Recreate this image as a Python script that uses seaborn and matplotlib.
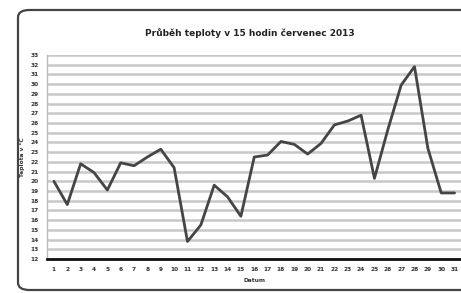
import matplotlib
matplotlib.use("Agg")
import matplotlib.pyplot as plt
import seaborn as sns
import pandas as pd
from matplotlib.patches import FancyBboxPatch

days = list(range(1, 32))
temps = [20.0, 17.6, 21.8, 20.9, 19.1, 21.9, 21.6, 22.5, 23.3, 21.4,
         13.8, 15.5, 19.6, 18.4, 16.4, 22.5, 22.7, 24.1, 23.8, 22.8,
         23.9, 25.8, 26.2, 26.8, 20.3, 25.3, 29.9, 31.8, 23.4, 18.8, 18.8]
y_ticks = list(range(12, 34))
title = "Průběh teploty v 15 hodin červenec 2013"
x_label = "Datum"
y_label = "Teplota v °C"

sns.set_theme(style="white")
plt.rcParams['font.family'] = ['DejaVu Sans']

W, H = 461, 293
fig = plt.figure(figsize=(W / 100, H / 100), dpi=100)
fig.patch.set_facecolor("white")

# chart border (rounded)
border = FancyBboxPatch((18 / W, 3 / H), 470 / W, 280 / H,
                        boxstyle="round,pad=0,rounding_size=0.025",
                        transform=fig.transFigure, fill=False,
                        edgecolor="#444444", linewidth=1.6, clip_on=False)
fig.patches.append(border)

ax = fig.add_axes([47.25 / W, 34 / H, 414 / W, 204 / H])
df = pd.DataFrame({"day": days, "temp": temps})
sns.lineplot(data=df, x="day", y="temp", ax=ax, color="#454545", linewidth=2.0)

ax.set_xlim(0.5, 31.5)
ax.set_ylim(12, 33)
ax.set_yticks(y_ticks)
ax.set_yticklabels([str(v) for v in y_ticks], fontsize=4.2, fontweight="bold", color="#333333")
ax.set_xticks(days)
ax.set_xticklabels([str(d) for d in days], fontsize=4.2, fontweight="bold", color="#333333")
ax.yaxis.grid(True, color="#c8c8c8", linewidth=1.8)
ax.set_axisbelow(True)
for s in ["top", "right"]:
    ax.spines[s].set_visible(False)
ax.spines["left"].set_color("#bbbbbb")
ax.spines["left"].set_linewidth(1.0)
ax.spines["bottom"].set_color("#111111")
ax.spines["bottom"].set_linewidth(2.0)
ax.tick_params(axis="x", direction="inout", length=4, width=1, color="#111111", pad=4)
ax.tick_params(axis="y", length=0, pad=6)
ax.set_xlabel(x_label, fontsize=4.2, fontweight="bold", color="#333333", labelpad=4)
ax.set_ylabel(y_label, fontsize=4.2, fontweight="bold", color="#333333", labelpad=4)
ax.set_title(title, fontsize=6.5, fontweight="bold", color="#222222", pad=14, x=0.49)

fig.savefig("out.png", dpi=100, facecolor="white")
